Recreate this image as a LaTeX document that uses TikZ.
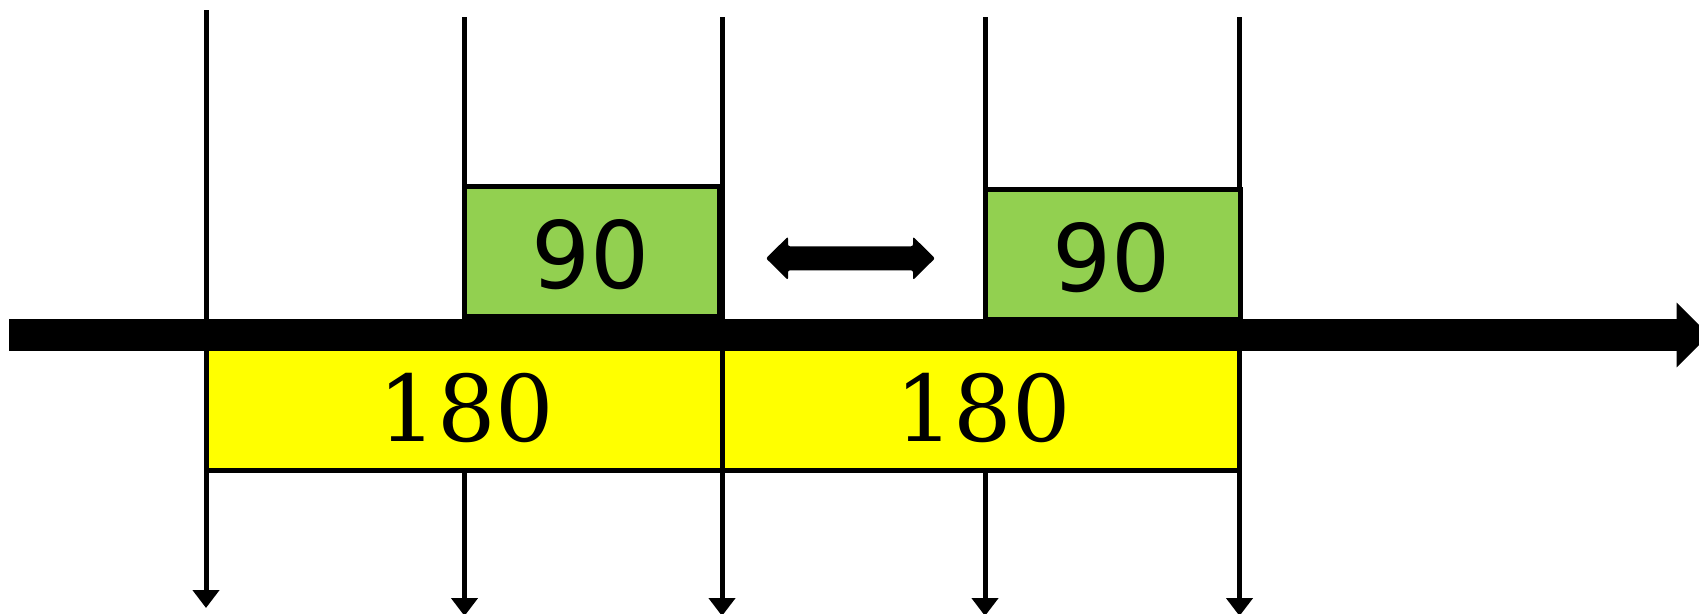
\documentclass[tikz,border=0pt]{standalone}
\usepackage{fontspec}
\usetikzlibrary{arrows.meta,calc}
\newfontfamily\sansdv{DejaVu Sans}
\newfontfamily\serifdv{DejaVu Serif}
\definecolor{boxgreen}{HTML}{92D050}
\definecolor{boxyellow}{HTML}{FFFF00}
\tikzset{
  ybox/.style={draw=black, line width=5, fill=boxyellow, inner sep=0, outer sep=0},
  gbox/.style={draw=black, line width=5, fill=boxgreen, inner sep=0, outer sep=0},
  vline/.style={draw=black, line width=5, -{Triangle[length=18pt,width=26pt]}},
  ytext/.style={anchor=base, font=\serifdv\fontsize{92}{100}\selectfont, inner sep=0},
  gtext/.style={anchor=base, font=\sansdv\fontsize{93}{100}\selectfont, inner sep=0},
}
\begin{document}
\begin{tikzpicture}[x=1pt,y=-1pt]
\useasboundingbox (0,0) rectangle (1699,613);
\clip (0,0) rectangle (1699,613);
\fill[white] (0,0) rectangle (1699,613);

% vertical lines
\coordinate (v1t) at (206,10);    \coordinate (v1b) at (206,608);
\coordinate (v2t) at (464.5,17);  \coordinate (v2b) at (464.5,616);
\coordinate (v3t) at (722,17);    \coordinate (v3b) at (722,616);
\coordinate (v4t) at (985,17);    \coordinate (v4b) at (985,616);
\coordinate (v5t) at (1239.5,17); \coordinate (v5b) at (1239.5,616);
\foreach \i in {1,...,5} { \draw[vline] (v\i t) -- (v\i b); }

% yellow boxes (under the axis, over the lines)
\node[ybox, minimum width=516, minimum height=133] (y1) at (464,403.5) {};
\node[ybox, minimum width=517.5, minimum height=133] (y2) at (980.75,403.5) {};

% green boxes
\node[gbox, minimum width=255, minimum height=130] (g1) at (592,251.5) {};
\node[gbox, minimum width=255, minimum height=130] (g2) at (1112.5,254) {};

% axis
\coordinate (bs) at (9,335);
\coordinate (be) at (1709,335);
\fill[black] (bs) ++(0,-15.85) -- ($(be)+(-32.3,-15.85)$) -- ($(be)+(-32.3,-32.3)$) -- (be)
  -- ($(be)+(-32.3,32.3)$) -- ($(be)+(-32.3,15.85)$) -- ($(bs)+(0,15.85)$) -- cycle;

% texts
\node[gtext] (n1) at (591,288.3) {90};
\node[gtext] (n2) at (1112,291.7) {90};
\node[ytext] (n3) at (466.5,441) {180};
\node[ytext] (n4) at (983,441) {180};

% double arrow
\coordinate (da) at (766,258.3);
\coordinate (db) at (935,258.3);
\fill[black, rounded corners=2] (da) -- ($(da)+(22,-21.7)$) -- ($(da)+(22,-12)$) -- ($(db)+(-22,-12)$)
  -- ($(db)+(-22,-21.7)$) -- (db) -- ($(db)+(-22,21.7)$) -- ($(db)+(-22,12)$)
  -- ($(da)+(22,12)$) -- ($(da)+(22,21.7)$) -- cycle;
\end{tikzpicture}
\end{document}
